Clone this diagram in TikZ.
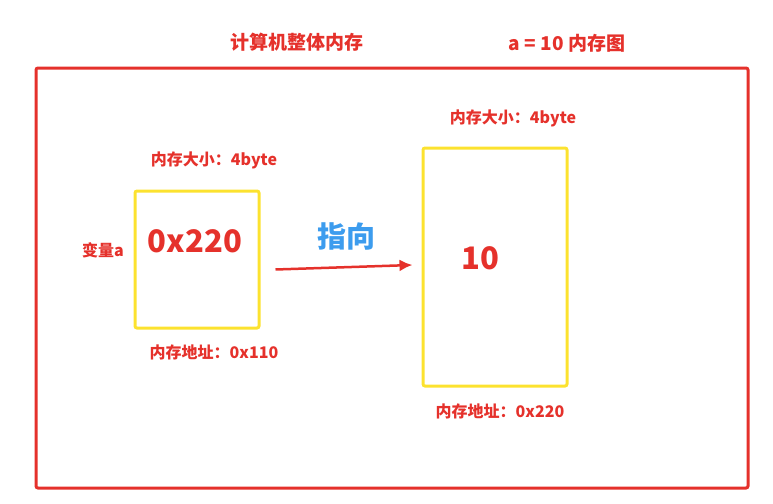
\documentclass[tikz,border=0pt]{standalone}
\usepackage{fontspec}
\setmainfont{Noto Sans CJK SC}
\usetikzlibrary{arrows.meta,positioning}

\definecolor{memred}{HTML}{E5312B}
\definecolor{memyellow}{HTML}{FCE22F}
\definecolor{memblue}{HTML}{3C9CEE}

\tikzset{
  lbl/.style={text=memred,font=\bfseries\fontsize{16}{18}\selectfont,inner sep=0pt},
  membox/.style={draw=memyellow,line width=3pt,rounded corners=2pt,inner sep=0pt}
}

\begin{document}
\begin{tikzpicture}[x=1pt,y=-1pt]
\useasboundingbox (0,0) rectangle (773,503);

% Draw outer memory frame
\node[draw=memred,line width=3pt,rounded corners=2pt,minimum width=712pt,minimum height=420pt,inner sep=0pt] (frame) at (392,278) {};

% Draw titles
\node[lbl,font=\bfseries\fontsize{19}{22}\selectfont] (title) at (297,42) {计算机整体内存};
\node[lbl,font=\bfseries\fontsize{19}{22}\selectfont] (subtitle) at (567,43) {a = 10 内存图};

% Draw variable box
\node[membox,minimum width=124pt,minimum height=137pt] (varbox) at (197,259.5) {};
\node[lbl,font=\bfseries\fontsize{31}{34}\selectfont] (addr) at (195,241) {0x220};
\node[lbl] (varsize) at (214,160) {内存大小：4byte};
\node[lbl,font=\bfseries\fontsize{16}{18}\selectfont] (varname) at (103,250) {变量a};
\node[lbl] (varaddr) at (214,352) {内存地址：0x110};

% Draw value box
\node[membox,minimum width=144pt,minimum height=238pt] (valbox) at (495,267) {};
\node[lbl,font=\bfseries\fontsize{31}{34}\selectfont] (val) at (480,258) {10};
\node[lbl] (valsize) at (513,118) {内存大小：4byte};
\node[lbl] (valaddr) at (500,411) {内存地址：0x220};

% Draw pointer arrow
\draw[memred,line width=2.5pt,-{Latex[length=13pt,width=12pt]}] ([xshift=15pt,yshift=-10pt]varbox.east) -- ([xshift=-9pt,yshift=2pt]valbox.west);
\node[text=memblue,font=\bfseries\fontsize{29}{32}\selectfont,inner sep=0pt] (pointto) at (346,236) {指向};

\end{tikzpicture}
\end{document}
